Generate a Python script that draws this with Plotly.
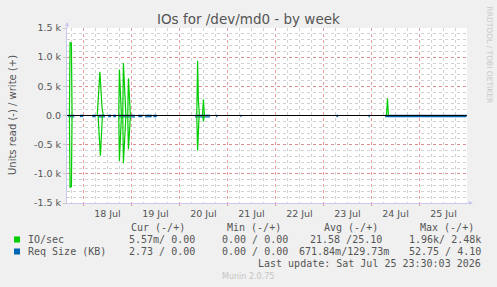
import plotly.graph_objects as go

# ---------------- data ----------------
title_text = "IOs for /dev/md0 - by week"
y_tick_vals = [-1500, -1000, -500, 0, 500, 1000, 1500]
y_tick_text = ["-1.5 k", "-1.0 k", "-0.5 k", "0.0", "0.5 k", "1.0 k", "1.5 k"]

# IO/sec - writes (plotted +)
io_write_t = ["2026-07-17 17:00", "2026-07-17 17:20", "2026-07-17 18:00", "2026-07-17 18:20", "2026-07-17 18:30",
              "2026-07-18 06:55", "2026-07-18 08:15", "2026-07-18 09:20", "2026-07-18 10:00", "2026-07-18 10:10",
              "2026-07-18 17:40", "2026-07-18 18:00", "2026-07-18 19:00", "2026-07-18 19:40", "2026-07-18 20:00",
              "2026-07-18 21:15", "2026-07-18 22:10", "2026-07-18 22:30", "2026-07-18 23:30", "2026-07-18 23:40",
              "2026-07-20 08:40", "2026-07-20 09:05", "2026-07-20 09:30", "2026-07-20 10:00", "2026-07-20 11:30",
              "2026-07-20 12:00", "2026-07-20 12:30", "2026-07-20 12:40",
              "2026-07-24 07:30", "2026-07-24 08:00", "2026-07-24 08:30"]
io_write = [0, 1250, 1240, 0, None,
            0, 750, 120, 0, None,
            0, 790, 0, 0, 900,
            0, 0, 640, 0, None,
            0, 940, 250, 0, 0,
            280, 0, None,
            0, 290, 0]

# IO/sec - reads (plotted -)
io_read_t = ["2026-07-17 17:00", "2026-07-17 17:20", "2026-07-17 18:00", "2026-07-17 18:20", "2026-07-17 18:30",
             "2026-07-18 07:20", "2026-07-18 08:30", "2026-07-18 09:30", "2026-07-18 09:40",
             "2026-07-18 17:40", "2026-07-18 18:00", "2026-07-18 19:00", "2026-07-18 19:40", "2026-07-18 20:00",
             "2026-07-18 21:15", "2026-07-18 22:10", "2026-07-18 22:30", "2026-07-18 23:30", "2026-07-18 23:40",
             "2026-07-20 08:40", "2026-07-20 09:05", "2026-07-20 09:50", "2026-07-20 11:40",
             "2026-07-20 12:00", "2026-07-20 12:25"]
io_read = [0, 1230, 1220, 0, None,
           0, 690, 0, None,
           0, 780, 0, 0, 820,
           0, 0, 580, 0, None,
           0, 600, 0, 0,
           100, 0]

# Req Size (KB) segments
req_t = ["2026-07-17 16:27", "2026-07-17 19:27", "2026-07-17 19:40",
         "2026-07-17 22:18", "2026-07-17 23:57", "2026-07-18 00:10",
         "2026-07-18 04:27", "2026-07-18 06:09", "2026-07-18 06:20",
         "2026-07-18 07:27", "2026-07-18 10:48", "2026-07-18 11:00",
         "2026-07-18 12:27", "2026-07-18 13:48", "2026-07-18 14:00",
         "2026-07-18 14:57", "2026-07-18 16:18", "2026-07-18 16:30",
         "2026-07-18 17:27", "2026-07-19 01:48", "2026-07-19 02:00",
         "2026-07-19 03:27", "2026-07-19 05:27", "2026-07-19 05:40",
         "2026-07-19 06:48", "2026-07-19 10:09", "2026-07-19 10:20",
         "2026-07-19 10:57", "2026-07-19 12:39", "2026-07-19 12:50",
         "2026-07-20 07:48", "2026-07-20 15:18", "2026-07-20 15:30",
         "2026-07-20 18:20", "2026-07-20 19:00", "2026-07-20 19:10",
         "2026-07-21 06:30", "2026-07-21 07:00", "2026-07-21 07:10",
         "2026-07-23 06:30", "2026-07-23 07:20", "2026-07-23 07:30",
         "2026-07-23 22:30", "2026-07-23 23:10", "2026-07-23 23:20",
         "2026-07-24 06:48", "2026-07-24 18:00", "2026-07-25 06:00", "2026-07-25 18:00", "2026-07-25 23:30"]
req_read = [20, 22, None,
            18, 16, None,
            20, 18, None,
            24, 22, None,
            18, 20, None,
            20, 18, None,
            22, 24, None,
            18, 20, None,
            22, 20, None,
            18, 20, None,
            22, 24, None,
            18, 18, None,
            18, 18, None,
            18, 18, None,
            18, 18, None,
            20, 22, 20, 22, 20]
req_write = [3, 3, None,
             3, 3, None,
             3, 3, None,
             3, 3, None,
             3, 3, None,
             3, 3, None,
             3, 3, None,
             3, 3, None,
             3, 3, None,
             3, 3, None,
             3, 3, None,
             3, 3, None,
             3, 3, None,
             3, 3, None,
             3, 3, None,
             3, 3, 3, 3, 3]

legend_header = ["Cur (-/+)", "Min (-/+)", "Avg (-/+)", "Max (-/+)"]
legend_rows = [
    ("IO/sec", "#00cc00", ["5.57m/ 0.00", "0.00 / 0.00", "21.58 /25.10", "1.96k/ 2.48k"]),
    ("Req Size (KB)", "#0066b3", ["2.73 / 0.00", "0.00 / 0.00", "671.84m/129.73m", "52.75 / 4.10"]),
]
last_update = "Last update: Sat Jul 25 23:30:03 2026"
munin_ver = "Munin 2.0.75"
side_text = "RRDTOOL / TOBI OETIKER"

# ---------------- layout helpers ----------------
W, H = 497, 287
L, R, T, B = 67, 30, 28, 84
PW, PH = W - L - R, H - T - B


def px(x):
    return (x - L) / PW


def py(y):
    return (H - B - y) / PH


GREEN = "#00cc00"
BLUE = "#0066b3"
TXT = "#555555"
MONO = "DejaVu Sans Mono"
SANS = "DejaVu Sans"

fig = go.Figure()
fig.add_trace(go.Scatter(x=req_t, y=[None if v is None else -v for v in req_read], mode="lines",
                         line=dict(color=BLUE, width=1.3), connectgaps=False, hoverinfo="skip"))
fig.add_trace(go.Scatter(x=req_t, y=req_write, mode="lines",
                         line=dict(color=BLUE, width=1.3), connectgaps=False, hoverinfo="skip"))
fig.add_trace(go.Scatter(x=io_read_t, y=[None if v is None else -v for v in io_read], mode="lines",
                         line=dict(color=GREEN, width=1.2), connectgaps=False, hoverinfo="skip"))
fig.add_trace(go.Scatter(x=io_write_t, y=io_write, mode="lines",
                         line=dict(color=GREEN, width=1.2), connectgaps=False, hoverinfo="skip"))

annotations = []
annotations.append(dict(text=title_text, x=px(248), xref="paper", y=py(18.5), yref="paper", showarrow=False,
                        font=dict(family=SANS, size=13.5, color=TXT), xanchor="center", yanchor="middle"))
annotations.append(dict(text="Units read (-) / write (+)", x=px(12), xref="paper", y=py(115), yref="paper",
                        showarrow=False, textangle=-90, font=dict(family=SANS, size=10, color=TXT),
                        xanchor="center", yanchor="middle"))
annotations.append(dict(text=side_text, x=px(489), xref="paper", y=py(4), yref="paper",
                        showarrow=False, textangle=90, font=dict(family=SANS, size=7.5, color="#c8c8c8"),
                        xanchor="center", yanchor="top"))
annotations.append(dict(text=munin_ver, x=px(248), xref="paper", y=py(276), yref="paper",
                        showarrow=False, font=dict(family=SANS, size=8, color="#c4c4c4"),
                        xanchor="center", yanchor="middle"))

# legend table
hdr_right = [187, 283, 380, 476]
val_right = [197, 290, 391, 483]
for h, xr in zip(legend_header, hdr_right):
    annotations.append(dict(text=h, x=px(xr), xref="paper", y=py(227), yref="paper", showarrow=False,
                            font=dict(family=MONO, size=10, color=TXT), xanchor="right", yanchor="middle"))
row_y = [239.5, 251.5]
for (name, col, vals), ry in zip(legend_rows, row_y):
    annotations.append(dict(text=name, x=px(26), xref="paper", y=py(ry), yref="paper", showarrow=False,
                            font=dict(family=MONO, size=10, color=TXT), xanchor="left", yanchor="middle"))
    for i, (v, xr) in enumerate(zip(vals, val_right)):
        if i == 2 and len(v) > 12:
            xr_use = 391
        elif i == 2:
            xr_use = 384
        else:
            xr_use = xr
        annotations.append(dict(text=v, x=px(xr_use), xref="paper", y=py(ry), yref="paper", showarrow=False,
                                font=dict(family=MONO, size=10, color=TXT), xanchor="right", yanchor="middle"))
annotations.append(dict(text=last_update, x=px(483), xref="paper", y=py(263.5), yref="paper", showarrow=False,
                        font=dict(family=MONO, size=10, color=TXT), xanchor="right", yanchor="middle"))

# axis arrows
annotations.append(dict(x=px(67), y=py(22), xref="paper", yref="paper", ax=0, ay=8, showarrow=True,
                        arrowhead=2, arrowsize=0.8, arrowwidth=1, arrowcolor="#c8c8f0", text=""))
annotations.append(dict(x=px(473), y=py(203), xref="paper", yref="paper", ax=-8, ay=0, showarrow=True,
                        arrowhead=2, arrowsize=0.8, arrowwidth=1, arrowcolor="#c8c8f0", text=""))

shapes = []
for (name, col, vals), ry in zip(legend_rows, row_y):
    shapes.append(dict(type="rect", xref="paper", yref="paper", x0=px(14), x1=px(20),
                       y0=py(ry - 3), y1=py(ry + 3), fillcolor=col, line=dict(width=0)))
# zero reference line on top
shapes.append(dict(type="line", xref="paper", yref="y", x0=0, x1=1, y0=0, y1=0,
                   line=dict(color="#000000", width=1), layer="above"))

fig.update_layout(
    width=W, height=H, margin=dict(l=L, r=R, t=T, b=B, pad=0),
    paper_bgcolor="#f0f0f0", plot_bgcolor="#ffffff", showlegend=False,
    annotations=annotations, shapes=shapes,
    xaxis=dict(type="date", range=["2026-07-17 15:48", "2026-07-25 23:45"],
               tick0="2026-07-18", dtick=86400000, ticklabelmode="period", tickformat="%d %b",
               showgrid=True, gridcolor="rgba(225,120,120,0.75)", griddash="dot", gridwidth=1,
               minor=dict(dtick=6 * 3600000, showgrid=True, gridcolor="rgba(190,190,190,0.7)",
                          griddash="dot", gridwidth=1),
               showline=True, linecolor="#c8c8f0", linewidth=1, ticks="outside", ticklen=2,
               tickcolor="rgba(225,120,120,0.8)", zeroline=False,
               tickfont=dict(family=SANS, size=9.5, color=TXT)),
    yaxis=dict(range=[-1500, 1500], tickmode="array", tickvals=y_tick_vals, ticktext=y_tick_text,
               showgrid=True, gridcolor="rgba(225,120,120,0.75)", griddash="dot", gridwidth=1,
               minor=dict(tickmode="linear", tick0=0, dtick=100, showgrid=True,
                          gridcolor="rgba(190,190,190,0.7)", griddash="dot", gridwidth=1),
               showline=True, linecolor="#c8c8f0", linewidth=1, ticks="outside", ticklen=3,
               tickcolor="#c8c8c8", zeroline=False,
               tickfont=dict(family=SANS, size=9.5, color=TXT)),
)

fig.write_html("out.html")
